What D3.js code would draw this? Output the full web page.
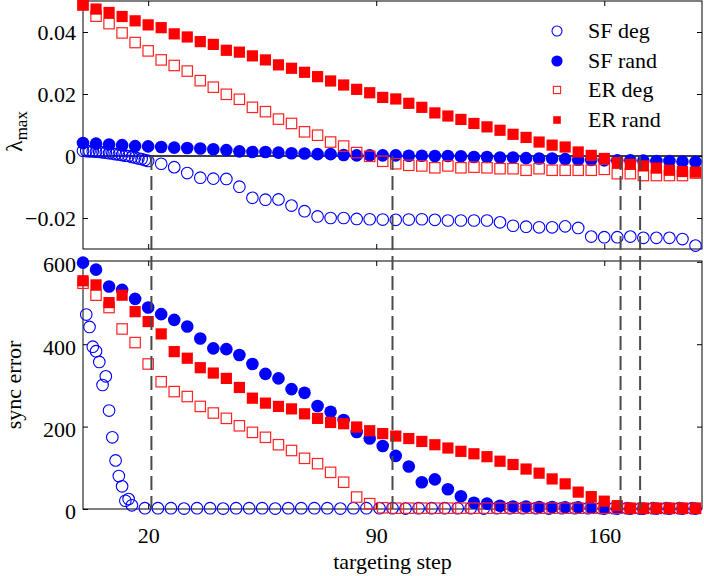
<!DOCTYPE html>
<html><head><meta charset="utf-8">
<script src="https://cdn.jsdelivr.net/npm/d3@7"></script>
<style>
body{margin:0;background:#fff;}
svg{display:block;}
svg text{font-family:"Liberation Serif","Times New Roman","DejaVu Serif",serif !important;}
</style>
</head><body>
<svg id="c" width="704" height="576"></svg>
<script>
// ---------------- data ----------------
const xTickVals = [20, 90, 160];
const lamTickVals = [-0.02, 0, 0.02, 0.04];
const errTickVals = [0, 200, 400, 600];
const zeroSteps = [21, 95, 165, 171];
const seriesNames = ["SF deg", "SF rand", "ER deg", "ER rand"];

// common step grid (every 4 targeting steps)
const steps = [0,4,8,12,16,20,24,28,32,36,40,44,48,52,56,60,64,68,72,76,80,84,88,92,96,100,
  104,108,112,116,120,124,128,132,136,140,144,148,152,156,160,164,168,172,176,180,184,188];

// lambda_max panel
const sfDegLamSteps = [0,1,2,3,4,5,6,7,8,9,10,11,12,13,14,15,16,17,18,19,20,
  24,28,32,36,40,44,48,52,56,60,64,68,72,76,80,84,88,92,96,100,104,108,112,116,120,124,
  128,132,136,140,144,148,152,156,160,164,168,172,176,180,184,188];
const sfDegLam = [0.0017,0.0016,0.0015,0.0015,0.0014,0.0013,0.0012,0.0011,0.0009,0.0008,0.0006,
  0.0005,0.0003,0.0001,0.0000,-0.0003,-0.0005,-0.0008,-0.0010,-0.0013,-0.0016,
  -0.0025,-0.0036,-0.0055,-0.0070,-0.0073,-0.0074,-0.0099,-0.0135,-0.0141,-0.0140,-0.0160,
  -0.0178,-0.0195,-0.0200,-0.0200,-0.0203,-0.0204,-0.0205,-0.0206,-0.0205,-0.0204,-0.0206,
  -0.0208,-0.0208,-0.0208,-0.0208,-0.0214,-0.0225,-0.0228,-0.0230,-0.0230,-0.0227,-0.0232,
  -0.0260,-0.0262,-0.0262,-0.0260,-0.0264,-0.0264,-0.0264,-0.0268,-0.0289];
const sfRandLam = [0.0042,0.0040,0.0037,0.0035,0.0032,0.0031,0.0029,0.0027,0.0026,0.0024,0.0022,
  0.0019,0.0015,0.0013,0.0013,0.0011,0.0009,0.0008,0.0006,0.0006,0.0003,0.0002,0.0002,0.0002,
  0.0002,0.0001,0.0001,0.0000,0.0000,-0.0001,-0.0003,-0.0003,-0.0005,-0.0005,-0.0007,-0.0008,
  -0.0008,-0.0010,-0.0012,-0.0013,-0.0014,-0.0014,-0.0014,-0.0015,-0.0016,-0.0016,-0.0018,-0.0019];
const erDegLam = [0.0487,0.0451,0.0427,0.0397,0.0366,0.0339,0.0310,0.0292,0.0274,0.0243,0.0222,
  0.0199,0.0183,0.0157,0.0143,0.0119,0.0105,0.0078,0.0067,0.0045,0.0032,0.0011,-0.0001,-0.0017,
  -0.0025,-0.0030,-0.0032,-0.0038,-0.0032,-0.0038,-0.0036,-0.0038,-0.0041,-0.0041,-0.0046,-0.0041,
  -0.0046,-0.0046,-0.0046,-0.0046,-0.0043,-0.0057,-0.0057,-0.0063,-0.0063,-0.0063,-0.0063,-0.0055];
const erRandLam = [0.0488,0.0474,0.0463,0.0450,0.0436,0.0423,0.0414,0.0394,0.0384,0.0369,0.0360,
  0.0341,0.0335,0.0323,0.0310,0.0294,0.0283,0.0270,0.0256,0.0242,0.0229,0.0215,0.0204,0.0189,
  0.0184,0.0170,0.0157,0.0139,0.0129,0.0118,0.0105,0.0094,0.0083,0.0070,0.0060,0.0045,0.0035,
  0.0029,0.0013,0.0002,-0.0008,-0.0021,-0.0027,-0.0032,-0.0039,-0.0046,-0.0050,-0.0052];

// sync error panel
const sfDegErrSteps = [1,2,3,4,5,6,7,8,9,10,11,12,13,14,15,19,23,27,31,35,39,43,47,51,55,59,63,
  67,71,75,79,83,87,91,95,99,103,107,111,115,119,123,127,131,135,139,143,147,151,155,159,163,
  167,171,175,179,183,187];
const sfDegErr = [472,442,394,383,357,301,322,239,174,118,80,55,20,24,9,
  2,2,2,1,2,2,1,2,2,2,1,2,2,2,2,1,2,2,2,2,1,2,2,2,2,2,1,2,2,2,2,1,2,2,2,2,2,2,1,2,2,2,2];
const sfRandErr = [598,581,540,532,510,489,473,459,443,414,390,388,374,352,328,317,291,282,250,
  236,216,187,171,153,129,103,65,72,48,31,15,13,8,6,6,5,5,4,4,3,1,1,1,1,1,1,1,1];
const erDegErr = [548,519,489,437,404,352,309,285,273,249,233,220,202,186,174,156,142,123,110,
  89,65,29,13,3,2,2,2,2,2,2,2,2,2,2,2,2,2,2,2,2,2,2,2,2,2,2,2,2];
const erRandErr = [554,544,501,519,479,455,425,382,366,343,330,317,295,269,257,249,243,231,220,
  210,207,199,190,183,177,171,164,156,148,140,134,127,116,108,97,87,73,61,41,30,19,8,1,1,1,1,1,1];

// ---------------- drawing ----------------
const BLUE = "#0000ff", RED = "#ff0000";
const FONT = "Liberation Serif";
const svg = d3.select("#c");
const L = 83, R = 702;
const x = d3.scaleLinear().domain([0, 190]).range([L, R]);
const yTop = d3.scaleLinear().domain([-0.03, 0.05]).range([249, 1]);
const yBot = d3.scaleLinear().domain([0, 602]).range([509, 261]);

const zip = (s, v) => s.map((d, i) => ({s: d, v: v[i]}));
const FS = 22;

function panel(y, ticks, fmt, labelDy) {
  const g = svg.append("g");
  const [y0, y1] = y.range();
  const la = g.append("g").attr("transform", `translate(${L},0)`)
    .call(d3.axisLeft(y).tickValues(ticks).tickSize(-5).tickPadding(7).tickFormat(fmt));
  la.attr("font-family", FONT).attr("font-size", FS);
  la.select(".domain").remove();
  la.selectAll("text").attr("dy", labelDy).attr("fill", "#000");
  la.selectAll("line").attr("stroke", "#000");
  const ra = g.append("g").attr("transform", `translate(${R},0)`)
    .call(d3.axisRight(y).tickValues(ticks).tickSize(-5).tickFormat(""));
  ra.select(".domain").remove();
  const ta = g.append("g").attr("transform", `translate(0,${y1})`)
    .call(d3.axisTop(x).tickValues(xTickVals).tickSize(-5).tickFormat(""));
  ta.select(".domain").remove();
  const ba = g.append("g").attr("transform", `translate(0,${y0})`)
    .call(d3.axisBottom(x).tickValues(xTickVals).tickSize(-5).tickFormat(""));
  ba.select(".domain").remove();
  g.append("rect").attr("x", L).attr("y", y1).attr("width", R - L).attr("height", y0 - y1)
    .attr("fill", "none").attr("stroke", "#000").attr("stroke-width", 1);
  return g;
}

const minusFmt = d => d === 0 ? "0" : d3.format(".2f")(d).replace("-", "\u2212");
panel(yTop, lamTickVals, minusFmt, "0.33em");
panel(yBot, errTickVals, d3.format("d"), "0.45em");

// zero line in top panel
svg.append("line").attr("x1", L).attr("x2", R).attr("y1", yTop(0)).attr("y2", yTop(0))
  .attr("stroke", "#000").attr("stroke-width", 1.3);

// x tick labels
const xl = svg.append("g").attr("transform", `translate(0,509)`)
  .call(d3.axisBottom(x).tickValues(xTickVals).tickSize(0).tickPadding(18).tickFormat(d3.format("d")));
xl.attr("font-family", FONT).attr("font-size", FS);
xl.select(".domain").remove();
xl.selectAll("text").attr("fill", "#000");

function openCircles(data, y) {
  svg.append("g").selectAll("circle").data(data).join("circle")
    .attr("cx", d => x(d.s)).attr("cy", d => y(d.v)).attr("r", 5.8)
    .attr("fill", "none").attr("stroke", BLUE).attr("stroke-width", 1.1);
}
function filledCircles(data, y) {
  svg.append("g").selectAll("circle").data(data).join("circle")
    .attr("cx", d => x(d.s)).attr("cy", d => y(d.v)).attr("r", 6.3)
    .attr("fill", BLUE);
}
function openSquares(data, y) {
  const h = 5.2;
  svg.append("g").selectAll("rect").data(data).join("rect")
    .attr("x", d => x(d.s) - h).attr("y", d => y(d.v) - h).attr("width", 2 * h).attr("height", 2 * h)
    .attr("fill", "none").attr("stroke", "#f22").attr("stroke-width", 1.2);
}
function filledSquares(data, y) {
  const h = 5.6;
  svg.append("g").selectAll("rect").data(data).join("rect")
    .attr("x", d => x(d.s) - h).attr("y", d => y(d.v) - h).attr("width", 2 * h).attr("height", 2 * h)
    .attr("fill", RED);
}

openCircles(zip(sfDegLamSteps, sfDegLam), yTop);
filledCircles(zip(steps, sfRandLam), yTop);
openSquares(zip(steps, erDegLam), yTop);
filledSquares(zip(steps, erRandLam), yTop);

openCircles(zip(sfDegErrSteps, sfDegErr), yBot);
filledCircles(zip(steps, sfRandErr), yBot);
openSquares(zip(steps, erDegErr), yBot);
filledSquares(zip(steps, erRandErr), yBot);

// dashed vertical lines
svg.append("g").selectAll("line").data(zeroSteps).join("line")
  .attr("x1", d => x(d)).attr("x2", d => x(d))
  .attr("y1", yTop(0)).attr("y2", yBot(0))
  .attr("stroke", "#4a4a4a").attr("stroke-width", 2).attr("stroke-dasharray", "14,6");

// legend
const lg = svg.append("g").attr("font-family", FONT);
const ly = [31, 61, 90, 120];
const lx = 557;
lg.append("circle").attr("cx", lx).attr("cy", ly[0]).attr("r", 5).attr("fill", "none").attr("stroke", BLUE).attr("stroke-width", 1.1);
lg.append("circle").attr("cx", lx).attr("cy", ly[1]).attr("r", 5.6).attr("fill", BLUE);
lg.append("rect").attr("x", lx - 3.6).attr("y", ly[2] - 3.6).attr("width", 7.2).attr("height", 7.2).attr("fill", "none").attr("stroke", "#f22").attr("stroke-width", 1.1);
lg.append("rect").attr("x", lx - 3.8).attr("y", ly[3] - 3.8).attr("width", 7.6).attr("height", 7.6).attr("fill", RED);
lg.selectAll("text").data(seriesNames).join("text")
  .attr("x", 588).attr("y", (d, i) => ly[i] + 7).attr("font-size", FS).text(d => d);

// axis titles
svg.append("text").attr("x", (L + R) / 2).attr("y", 569).attr("text-anchor", "middle")
  .attr("font-family", FONT).attr("font-size", FS).text("targeting step");
svg.append("text").attr("transform", `translate(21,${(261 + 509) / 2}) rotate(-90)`)
  .attr("font-family", FONT).attr("text-anchor", "middle").attr("font-size", FS).text("sync error");
const lam = svg.append("text").attr("transform", `translate(22,152) rotate(-90)`)
  .attr("font-family", FONT).attr("text-anchor", "start");
lam.append("tspan").attr("font-size", 24).text("\u03bb");
lam.append("tspan").attr("font-size", 17).attr("dy", 5).text("max");
</script>
</body></html>
